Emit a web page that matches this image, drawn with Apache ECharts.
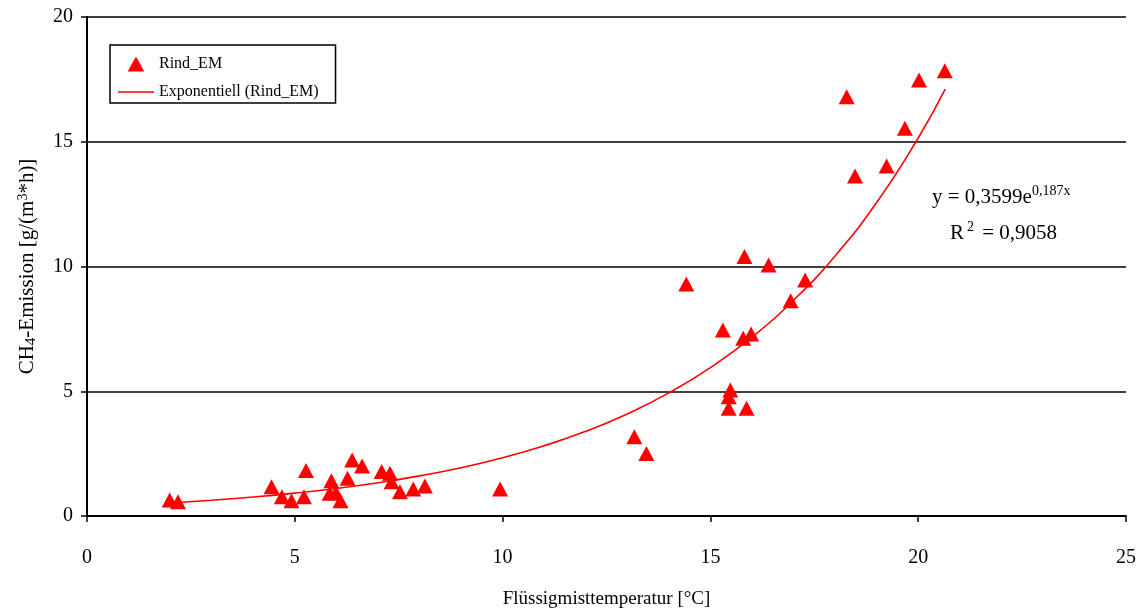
<!DOCTYPE html>
<html><head><meta charset="utf-8">
<script src="https://cdn.jsdelivr.net/npm/echarts@6/dist/echarts.min.js"></script>
<style>html,body{margin:0;padding:0;background:#fff}#c{width:1138px;height:609px}</style>
</head><body><div id="c"></div>
<script>
const rindX = [1.99,2.19,4.44,4.69,4.92,5.22,5.27,5.84,5.88,5.99,6.10,6.27,6.38,6.62,7.09,7.29,7.33,7.53,7.85,8.13,9.94,13.17,13.46,14.42,15.30,15.44,15.44,15.48,15.79,15.82,15.87,15.98,16.40,16.93,17.28,18.28,18.48,19.24,19.68,20.02,20.64];
const rindY = [0.64,0.57,1.17,0.77,0.61,0.77,1.82,0.91,1.41,0.93,0.61,1.51,2.24,2.00,1.78,1.71,1.37,0.97,1.08,1.20,1.08,3.18,2.51,9.30,7.45,4.32,4.78,5.05,7.12,10.40,4.32,7.29,10.06,8.63,9.46,16.80,13.63,14.03,15.54,17.47,17.85];
const trendX = [2,3,4,5,6,7,8,9,10,11,12,13,14,15,16,17,18,19,20,20.65];
const trendY = [0.523,0.631,0.760,0.917,1.105,1.333,1.607,1.937,2.335,2.815,3.394,4.092,4.934,5.948,7.171,8.646,10.424,12.568,15.151,17.11];
const xTicks = [0,5,10,15,20,25];
const yTicks = [0,5,10,15,20];
const seriesNames = ['Rind_EM','Exponentiell (Rind_EM)'];

const font = '"Liberation Serif","Times New Roman",serif';
const chart = echarts.init(document.getElementById('c'));
chart.setOption({
  animation:false,
  backgroundColor:'#fff',
  grid:{left:87,right:12,top:17,bottom:93,outerBoundsMode:'none',containLabel:false},
  legend:{
    orient:'vertical', left:110, top:45,
    borderColor:'#000', borderWidth:1.5, padding:[11,17,3,8], itemGap:12,
    itemWidth:36, itemHeight:15, symbolKeepAspect:true,
    textStyle:{fontFamily:font,fontSize:16,color:'#000'},
    data:[{name:seriesNames[0],icon:'path://M5,0 L10,9 L0,9 Z',itemStyle:{color:'#ff0000',opacity:1}},
          {name:seriesNames[1],icon:'path://M0,0 L36,0 L36,1.5 L0,1.5 Z',itemStyle:{color:'#ff0000'}}]
  },
  xAxis:{type:'value',min:xTicks[0],max:xTicks[xTicks.length-1],interval:5,
    name:'Flüssigmisttemperatur [°C]',nameLocation:'middle',nameGap:74,
    nameTextStyle:{fontFamily:font,fontSize:19,color:'#000'},
    axisLine:{lineStyle:{color:'#000',width:2}},
    axisTick:{inside:false,length:6,lineStyle:{color:'#000',width:1.5}},
    axisLabel:{fontFamily:font,fontSize:20,color:'#000',margin:32},
    splitLine:{show:false}},
  yAxis:{type:'value',min:yTicks[0],max:yTicks[yTicks.length-1],interval:5,
    name:'CH{sub|4}-Emission [g/(m{sup|3}*h)]',nameLocation:'middle',nameGap:48,nameRotate:90,
    nameTextStyle:{fontFamily:font,fontSize:21,color:'#000',
      rich:{sub:{fontFamily:font,fontSize:15,color:'#000',verticalAlign:'bottom',padding:[5,0,0,0]},
            sup:{fontFamily:font,fontSize:14,color:'#000',verticalAlign:'top',padding:[0,0,9,0]}}},
    axisLine:{show:true,lineStyle:{color:'#000',width:2}},
    axisTick:{show:true,inside:false,length:6,lineStyle:{color:'#000',width:1.5}},
    axisLabel:{fontFamily:font,fontSize:20,color:'#000',margin:14},
    splitLine:{show:true,lineStyle:{color:'#000',width:1.5}}},
  series:[
    {name:seriesNames[0],type:'scatter',symbol:'triangle',symbolSize:[16,15],
     itemStyle:{color:'#ff0000',opacity:1},data:rindX.map((x,i)=>[x,rindY[i]]),z:3},
    {name:seriesNames[1],type:'line',showSymbol:false,symbol:'none',smooth:true,
     lineStyle:{color:'#ff0000',width:1.6},itemStyle:{color:'#ff0000'},
     data:trendX.map((x,i)=>[x,trendY[i]]),z:2}
  ],
  graphic:[
    {type:'text',left:932,top:184,style:{text:'y = 0,3599e{sup|0,187x}',fontFamily:font,fontSize:21,fill:'#000',
      rich:{sup:{fontFamily:font,fontSize:14,fill:'#000',verticalAlign:'top',padding:[0,0,13,0]}}}},
    {type:'text',left:950,top:220,style:{text:'R{sup|2} = 0,9058',fontFamily:font,fontSize:21,fill:'#000',
      rich:{sup:{fontFamily:font,fontSize:14,fill:'#000',verticalAlign:'top',padding:[0,3,13,3]}}}}
  ]
});
</script></body></html>
